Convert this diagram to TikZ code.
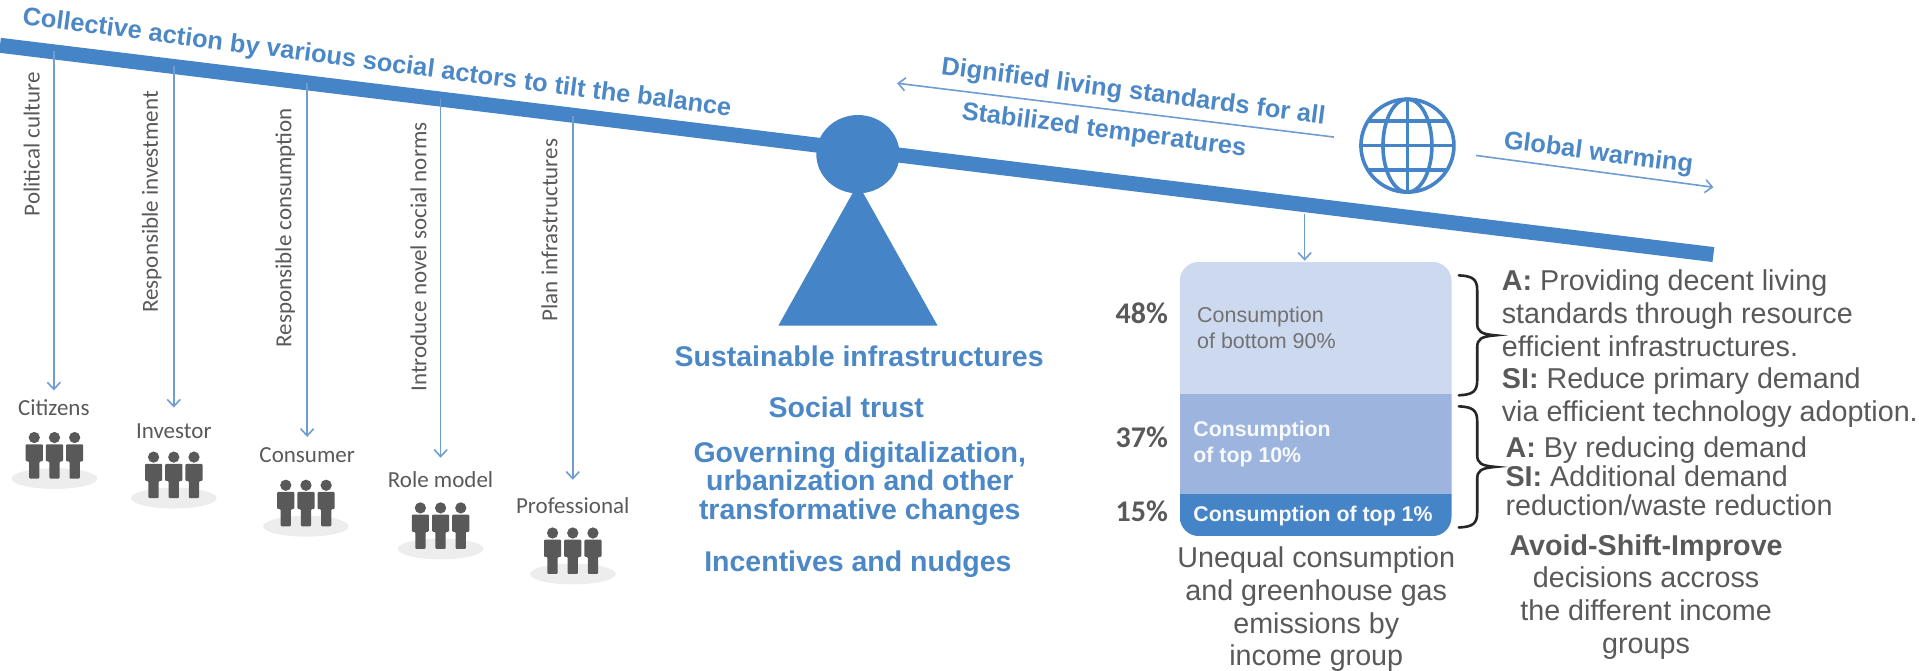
\documentclass[tikz,border=0pt]{standalone}
\usepackage{fontspec}
\setmainfont{Liberation Sans}
\newfontfamily\carl{Carlito}
\usetikzlibrary{arrows.meta,calc}
\definecolor{bluemain}{HTML}{4484C7}
\definecolor{bluetext}{HTML}{4C88C6}
\definecolor{thinblue}{HTML}{6F9DD2}
\definecolor{grayt}{HTML}{595959}
\definecolor{boxa}{HTML}{CDD9EF}
\definecolor{boxb}{HTML}{9DB5DE}
\definecolor{shadowc}{HTML}{EDEDED}
\newcommand{\fs}[1]{\fontsize{#1}{#1}\selectfont}
\newcommand{\sidebrace}[3]{% top, middle, bottom y
  \draw[draw=black!85,line width=2.6pt,line cap=round]
   (1192,#1) .. controls (1203,#1+0.5) and (1207,#1+3) .. (1207,#1+12)
   -- (1207,#2-10) .. controls (1207,#2-3) and (1210,#2-1) .. (1222,#2)
   .. controls (1210,#2+1) and (1207,#2+3) .. (1207,#2+10)
   -- (1207,#3-12) .. controls (1207,#3-3) and (1203,#3-0.5) .. (1192,#3);
}
\tikzset{
  x=1.2239pt,y=-1.2239pt,
  thinarrow/.style={draw=thinblue,line width=1.6pt,-{Straight Barb[length=7pt,width=13pt,line width=1.6pt]}},
  slanttext/.style={text=bluetext,font=\bfseries\fs{25.4},rotate=-7.4,inner sep=0pt},
  vlabel/.style={text=grayt,font=\carl\fs{23},rotate=90,inner sep=0pt},
  actor/.style={text=grayt,font=\carl\fs{23},inner sep=0pt},
  centertext/.style={text=bluetext,font=\bfseries\fs{28.5},align=center,inner sep=0pt},
  righttext/.style={text=grayt,font=\fs{28.7},inner sep=0pt},
  pct/.style={text=grayt,font=\carl\bfseries\fs{30},inner sep=0pt},
  crowd/.pic={
    \fill[shadowc] (0,38) ellipse (35 and 8.5);
    \foreach \d in {-16.5,0,16.5}{
      \fill[grayt] (\d,4.5) circle (4.6);
      \fill[grayt,rounded corners=1pt] (\d-7,10) -- (\d+7,10) -- (\d+7,24) -- (\d+4.2,24) -- (\d+4.2,38) -- (\d-4.2,38) -- (\d-4.2,24) -- (\d-7,24) -- cycle;
    }
  }
}
\begin{document}
\begin{tikzpicture}
\useasboundingbox (0,0) rectangle (1568,548);
% beam
\coordinate (beamL) at (0,37);
\coordinate (beamR) at (1400,208);
\draw[bluemain,line width=15pt] (beamL) -- (beamR);
% fulcrum
\fill[bluemain] (701,150) -- (766,266) -- (636,266) -- cycle;
\fill[bluemain] (701,126) ellipse (34 and 32);
% title
\node[slanttext] (title) at (308,52) {Collective action by various social actors to tilt the balance};
% hanging arrows
\foreach \n/\x/\ya/\yb in {a/44/42/319,b/142/54/333,c/251/68/357,d/360/81/374,e/468/95/392}{
  \coordinate (top\n) at (\x,\ya);
  \coordinate (tip\n) at (\x,\yb);
  \draw[thinarrow] (top\n) -- (tip\n);
}
\node[vlabel] (l1) at (26,118) {Political culture};
\node[vlabel] (l2) at (124,165) {Responsible investment};
\node[vlabel] (l3) at (233,186) {Responsible consumption};
\node[vlabel] (l4) at (342,210) {Introduce novel social norms};
\node[vlabel] (l5) at (449,188) {Plan infrastructures};
% actors
\node[actor] (a1) at (44,333) {Citizens};
\node[actor] (a2) at (142,352) {Investor};
\node[actor] (a3) at (251,372) {Consumer};
\node[actor] (a4) at (360,392) {Role model};
\node[actor] (a5) at (468,413) {Professional};
\pic at (44.5,353) {crowd};
\pic at (142,369) {crowd};
\pic at (250,392) {crowd};
\pic at (360,410.5) {crowd};
\pic at (468,431) {crowd};
% centre text
\node[centertext] (c1) at (702,291.5) {Sustainable infrastructures};
\node[centertext] (c2) at (691.5,333) {Social trust};
\node[centertext] (c3) at (702.5,395) {Governing digitalization,\\urbanization and other\\transformative changes};
\node[centertext] (c4) at (701,461) {Incentives and nudges};
% upper right
\node[slanttext] (d1) at (926,76) {Dignified living standards for all};
\node[slanttext] (d2) at (902,107) {Stabilized temperatures};
\coordinate (dR) at (1090,112);
\coordinate (dL) at (733,68);
\draw[thinarrow] (dR) -- (dL);
\node[slanttext] (g1) at (1306,126) {Global warming};
\coordinate (gL) at (1206,127);
\coordinate (gR) at (1400,153);
\draw[thinarrow] (gL) -- (gR);
% globe
\begin{scope}[bluemain,line width=3.6pt]
\draw (1150,119) circle (38);
\draw (1150,119) ellipse (20 and 38);
\draw (1150,81) -- (1150,157);
\draw (1112,119) -- (1188,119);
\draw (1118,99) -- (1182,99);
\draw (1118,139) -- (1182,139);
\end{scope}
% stacked box
\begin{scope}
\clip[rounded corners=19pt] (964,214) rectangle (1186,438);
\fill[boxa] (964,214) rectangle (1186,322);
\fill[boxb] (964,322) rectangle (1186,404);
\fill[bluemain] (964,404) rectangle (1186,438);
\end{scope}
\coordinate (boxtop) at (1066,213);
\coordinate (droptop) at (1066,175);
\draw[thinarrow] (droptop) -- (boxtop);
\node[text=grayt!85,font=\fs{21.5},align=left,anchor=west,inner sep=0pt] (b1) at (978,268) {Consumption\\[4.5pt]of bottom 90\%};
\node[text=white!92!boxb,font=\bfseries\fs{21.3},align=left,anchor=west,inner sep=0pt] (b2) at (975,363) {Consumption\\[4.5pt]of top 10\%};
\node[text=white!92!boxb,font=\bfseries\fs{21.3},anchor=west,inner sep=0pt] (b3) at (975,422) {Consumption of top 1\%};
\node[pct] (p1) at (933,256) {48\%};
\node[pct] (p2) at (933,357) {37\%};
\node[pct] (p3) at (933,418) {15\%};
\node[righttext,align=center] (u1) at (1075.5,498) {Unequal consumption\\[4pt]and greenhouse gas\\[4pt]emissions by\\[4pt]income group};
% braces
\sidebrace{225}{274}{323}
\sidebrace{332}{381.5}{431}
% right texts
\node[righttext,align=left,anchor=north west] (r1) at (1227,220.5) {\textbf{A:} Providing decent living\\[4pt]standards through resource\\[4pt]efficient infrastructures.\\[4pt]\textbf{SI:} Reduce primary demand\\[4pt]via efficient technology adoption.};
\node[righttext,align=left,anchor=north west] (r2) at (1230,357) {\textbf{A:} By reducing demand\\[0.3pt]\textbf{SI:} Additional demand\\[0.3pt]reduction/waste reduction};
\node[righttext,align=center] (r3) at (1345,487.5) {\textbf{Avoid-Shift-Improve}\\[4pt]decisions accross\\[4pt]the different income\\[4pt]groups};
\end{tikzpicture}
\end{document}
